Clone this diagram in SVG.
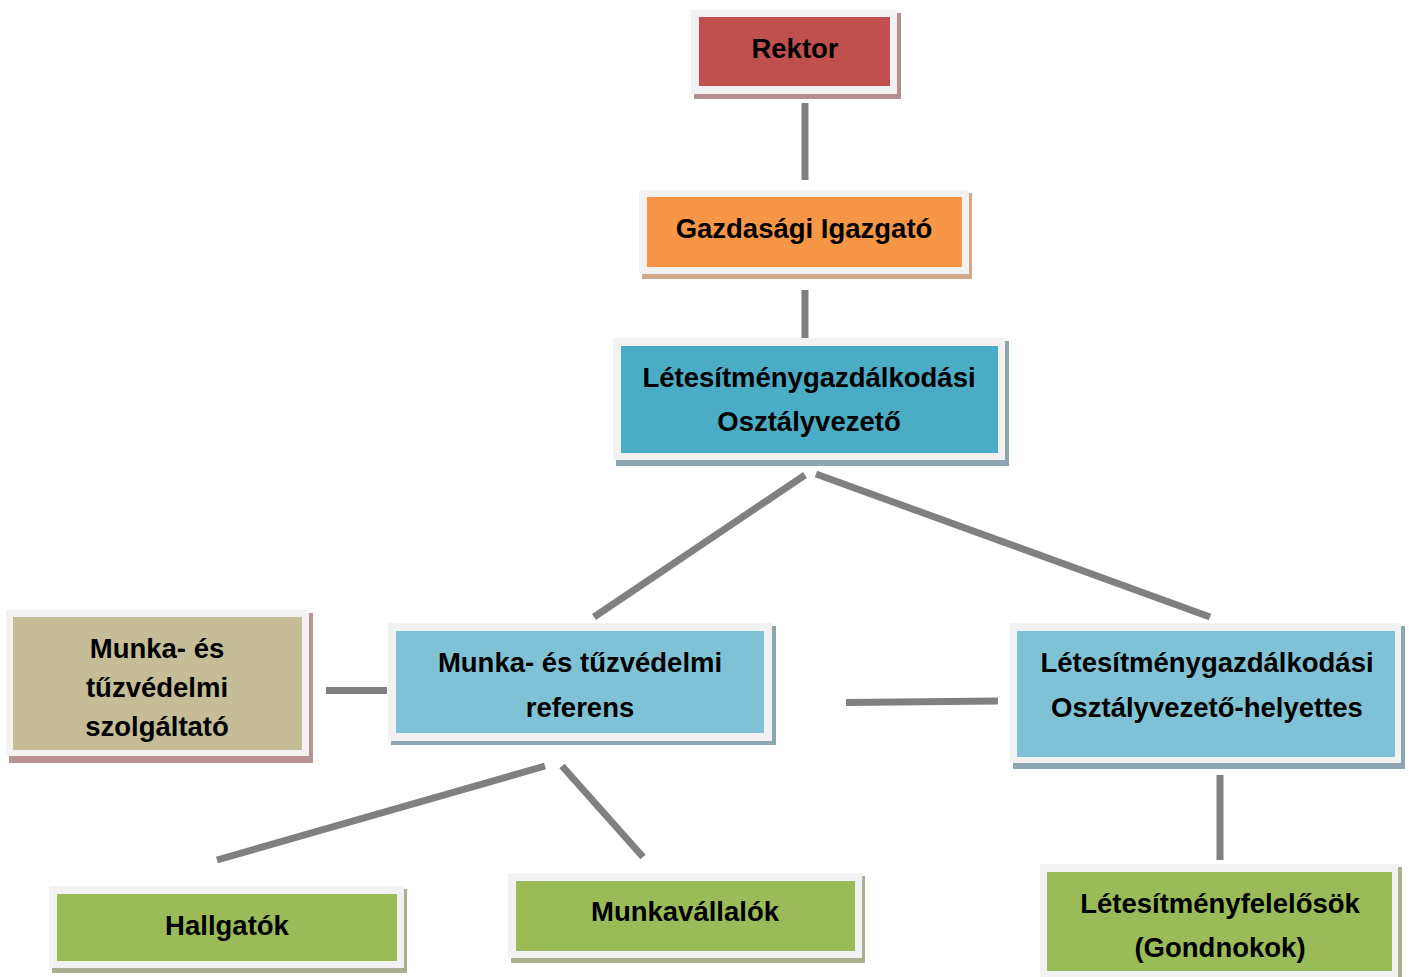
<svg xmlns="http://www.w3.org/2000/svg" width="1409" height="977" viewBox="0 0 1409 977">
<style>
.frame{fill:#f2f2f2}
.t{font-family:"Liberation Sans",Arial,sans-serif;font-weight:bold;font-size:27.5px;fill:#000;text-anchor:middle}
.c line{stroke:#808080;stroke-width:7}
</style>
<rect width="1409" height="977" fill="#ffffff"/>
<g class="c" id="connectors">
<line x1="805" y1="103" x2="805" y2="180"/>
<line x1="805" y1="290" x2="805" y2="342"/>
<line x1="805" y1="475" x2="594" y2="617"/>
<line x1="816" y1="474" x2="1210" y2="617"/>
<line x1="326" y1="690.5" x2="387" y2="690.5"/>
<line x1="846" y1="702.5" x2="998" y2="701"/>
<line x1="545" y1="766" x2="217" y2="860"/>
<line x1="562" y1="766" x2="643" y2="857"/>
<line x1="1220" y1="775" x2="1220" y2="860"/>
</g>
<g id="rektor">
<rect x="694" y="13" width="207" height="86" fill="#b48f8f"/>
<rect class="frame" x="691" y="10" width="206" height="84"/>
<rect x="699" y="17" width="191" height="69" fill="#c0504d"/>
<text class="t" x="795" y="58">Rektor</text>
</g>
<g id="gazdasagi">
<rect x="642" y="193" width="330" height="86" fill="#cfa98a"/>
<rect class="frame" x="639" y="190" width="330" height="84"/>
<rect x="647" y="197" width="315" height="70" fill="#f79646"/>
<text class="t" x="804" y="238">Gazdasági Igazgató</text>
</g>
<g id="osztalyvezeto">
<rect x="616" y="341" width="393" height="125" fill="#8ea6b0"/>
<rect class="frame" x="613" y="338" width="392" height="122"/>
<rect x="621" y="346" width="377" height="107" fill="#4bacc6"/>
<text class="t" x="809" y="387">Létesítménygazdálkodási</text>
<text class="t" x="809" y="431">Osztályvezető</text>
</g>
<g id="szolgaltato">
<rect x="9" y="613" width="304" height="150" fill="#b89393"/>
<rect class="frame" x="6" y="610" width="303" height="146"/>
<rect x="13" y="617" width="289" height="133" fill="#c4bd97"/>
<text class="t" x="157" y="658">Munka- és</text>
<text class="t" x="157" y="697">tűzvédelmi</text>
<text class="t" x="157" y="736">szolgáltató</text>
</g>
<g id="referens">
<rect x="391" y="626" width="385" height="119" fill="#8ea6b0"/>
<rect class="frame" x="388" y="623" width="384" height="118"/>
<rect x="396" y="631" width="368" height="102" fill="#80c2d5"/>
<text class="t" x="580" y="672">Munka- és tűzvédelmi</text>
<text class="t" x="580" y="717">referens</text>
</g>
<g id="helyettes">
<rect x="1013" y="626" width="392" height="143" fill="#8ea6b0"/>
<rect class="frame" x="1010" y="623" width="391" height="140"/>
<rect x="1017" y="631" width="378" height="126" fill="#80c2d5"/>
<text class="t" x="1207" y="672">Létesítménygazdálkodási</text>
<text class="t" x="1207" y="717">Osztályvezető-helyettes</text>
</g>
<g id="hallgatok">
<rect x="52" y="889" width="355" height="84" fill="#a9b092"/>
<rect class="frame" x="49" y="886" width="355" height="82"/>
<rect x="57" y="894" width="340" height="67" fill="#9bbb59"/>
<text class="t" x="227" y="935">Hallgatók</text>
</g>
<g id="munkavallalok">
<rect x="511" y="876" width="354" height="87" fill="#a9b092"/>
<rect class="frame" x="508" y="873" width="354" height="85"/>
<rect x="516" y="881" width="339" height="70" fill="#9bbb59"/>
<text class="t" x="685" y="921">Munkavállalók</text>
</g>
<g id="letesitmenyfelelosok">
<rect x="1043" y="867" width="359" height="113" fill="#a9b092"/>
<rect class="frame" x="1040" y="864" width="358" height="113"/>
<rect x="1047" y="872" width="345" height="99" fill="#9bbb59"/>
<text class="t" x="1220" y="913">Létesítményfelelősök</text>
<text class="t" x="1220" y="957">(Gondnokok)</text>
</g>
</svg>
